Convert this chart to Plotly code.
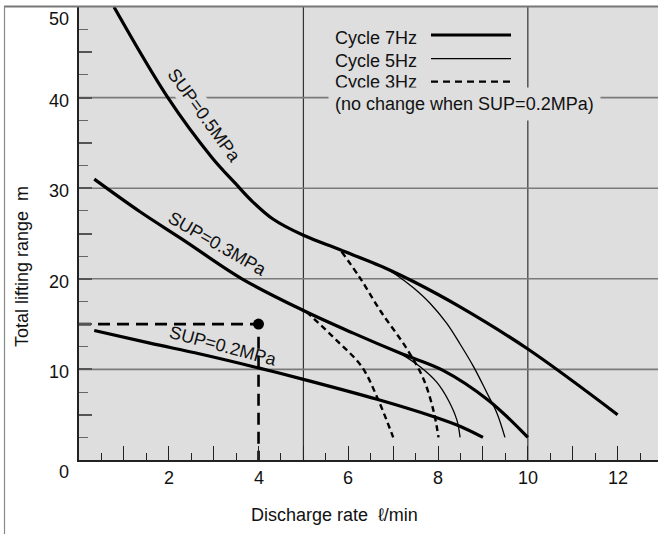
import plotly.graph_objects as go

# ---------------- data ----------------
# SUP = 0.5 MPa
sup05_7hz_x = [0.78, 1.98, 2.96, 3.49, 3.83, 4.32, 5.00, 5.82, 6.82, 7.45, 8.49, 10.0, 12.0]
sup05_7hz_y = [50.0, 40.0, 33.4, 30.5, 28.7, 26.6, 24.8, 23.2, 21.2, 19.7, 16.9, 12.25, 5.0]
sup05_5hz_x = [6.82, 7.08, 7.45, 7.82, 8.19, 8.49, 8.79, 9.09, 9.31, 9.49]
sup05_5hz_y = [21.2, 20.4, 19.0, 17.3, 15.1, 12.8, 10.3, 7.4, 5.2, 2.5]
sup05_3hz_x = [5.85, 6.26, 6.71, 7.30, 7.67, 7.90, 8.01]
sup05_3hz_y = [23.0, 20.1, 16.5, 12.3, 9.0, 5.4, 2.5]

# SUP = 0.3 MPa
sup03_7hz_x = [0.34, 1.36, 2.32, 3.63, 5.00, 6.11, 7.15, 8.11, 9.12, 10.0]
sup03_7hz_y = [31.0, 27.4, 24.3, 20.0, 16.5, 14.0, 11.8, 9.9, 6.6, 2.5]
sup03_5hz_x = [7.15, 7.60, 7.97, 8.23, 8.42, 8.49]
sup03_5hz_y = [11.8, 10.3, 8.6, 6.6, 4.4, 2.5]
sup03_3hz_x = [5.07, 5.74, 6.30, 6.67, 7.00]
sup03_3hz_y = [16.35, 13.2, 10.3, 6.6, 2.5]

# SUP = 0.2 MPa (no change with cycle)
sup02_x = [0.34, 1.58, 2.70, 3.97, 5.00, 6.64, 7.89, 8.50, 9.00]
sup02_y = [14.3, 12.9, 11.7, 10.2, 8.9, 6.7, 4.8, 3.7, 2.5]

# example reading point
ref_x = 4.0
ref_y = 15.0
ref_vline_top = 13.6

# axis ticks / labels
x_tick_vals = [2, 4, 6, 8, 10, 12]
x_tick_text = ["2", "4", "6", "8", "10", "12"]
y_tick_vals = [0, 10, 20, 30, 40, 50]
y_tick_text = ["0", "10", "20", "30", "40", "50"]
x_grid = [5, 10]
y_grid = [10, 20, 30, 40]

legend_labels = ["Cycle 7Hz", "Cycle 5Hz", "Cycle 3Hz"]
legend_note = "(no change when SUP=0.2MPa)"
curve_labels = ["SUP=0.5MPa", "SUP=0.3MPa", "SUP=0.2MPa"]
curve_label_x = [2.80, 3.09, 3.21]
curve_label_y = [38.0, 23.8, 12.6]
curve_label_angle = [54, 30, 15]
curve_label_bg = [True, False, False]

# ---------------- layout geometry ----------------
W, H = 658, 534
L, R, T, B = 79, 0, 7, 74
PW, PH = W - L - R, H - T - B


def pxx(px):
    return (px - L) / PW


def pxy(py):
    return (H - B - py) / PH


FONT = "Liberation Sans, Arial, Helvetica, sans-serif"
FS = 18
INK = "#111111"
BG = "#dedede"

fig = go.Figure()

thick = dict(color="black", width=3.2, shape="spline", smoothing=1.0)
thin = dict(color="black", width=1.3, shape="spline", smoothing=1.0)
dash3 = dict(color="black", width=2.4, shape="spline", smoothing=1.0, dash="6px,4px")

for xs, ys, ln in [
    (sup05_3hz_x, sup05_3hz_y, dash3),
    (sup03_3hz_x, sup03_3hz_y, dash3),
    (sup05_5hz_x, sup05_5hz_y, thin),
    (sup03_5hz_x, sup03_5hz_y, thin),
    (sup05_7hz_x, sup05_7hz_y, thick),
    (sup03_7hz_x, sup03_7hz_y, thick),
    (sup02_x, sup02_y, thick),
]:
    fig.add_trace(go.Scatter(x=xs, y=ys, mode="lines", line=ln, showlegend=False, hoverinfo="skip"))

# reference dashed lines and point
fig.add_trace(go.Scatter(x=[0, ref_x], y=[ref_y, ref_y], mode="lines",
                         line=dict(color="black", width=2.6, dash="12px,7px"), showlegend=False,
                         hoverinfo="skip"))
fig.add_trace(go.Scatter(x=[ref_x, ref_x], y=[ref_vline_top, 0], mode="lines",
                         line=dict(color="black", width=2.6, dash="12px,7px"), showlegend=False,
                         hoverinfo="skip"))
fig.add_trace(go.Scatter(x=[ref_x], y=[ref_y], mode="markers",
                         marker=dict(color="black", size=11), showlegend=False, hoverinfo="skip"))

shapes = []
for gx in x_grid:
    shapes.append(dict(type="line", xref="x", yref="paper", x0=gx, x1=gx, y0=0, y1=1,
                       line=dict(color="#333333", width=1.2), layer="below"))
for gy in y_grid:
    shapes.append(dict(type="line", xref="paper", yref="y", x0=0, x1=1, y0=gy, y1=gy,
                       line=dict(color="#7a7a7a", width=1.6), layer="below"))
# outer frame lines
shapes.append(dict(type="line", xref="paper", yref="paper", x0=pxx(4), x1=1, y0=pxy(6.5), y1=pxy(6.5),
                   line=dict(color="#777777", width=2)))
shapes.append(dict(type="line", xref="paper", yref="paper", x0=pxx(4.5), x1=pxx(4.5), y0=pxy(6), y1=pxy(534),
                   line=dict(color="#888888", width=1.2)))
# legend keys
key_y = [35, 58.7, 81.7]
key_style = [dict(color="black", width=3.2), dict(color="black", width=1.3),
             dict(color="black", width=2.2, dash="7px,5px")]
for ky, ks in zip(key_y, key_style):
    shapes.append(dict(type="line", xref="paper", yref="paper", x0=pxx(431), x1=pxx(511),
                       y0=pxy(ky), y1=pxy(ky), line=ks))

ann = []
for v, t in zip(x_tick_vals, x_tick_text):
    ann.append(dict(x=v, y=0, xref="x", yref="y", text=t, showarrow=False,
                    yanchor="middle", xanchor="center", yshift=-18,
                    font=dict(family=FONT, size=FS, color=INK)))
for v, t in zip(y_tick_vals, y_tick_text):
    shift = -12 if v in (y_tick_vals[0], y_tick_vals[-1]) else -3
    ann.append(dict(x=0, y=v, xref="paper", yref="y", text=t, showarrow=False,
                    yanchor="middle", xanchor="right", xshift=-8, yshift=shift,
                    font=dict(family=FONT, size=FS, color=INK)))
# axis titles
ann.append(dict(x=pxx(334), y=pxy(515), xref="paper", yref="paper", text="Discharge rate  ℓ/min",
                showarrow=False, xanchor="center", yanchor="middle",
                font=dict(family=FONT, size=FS, color=INK)))
ann.append(dict(x=pxx(22), y=pxy(267), xref="paper", yref="paper", text="Total lifting range  m",
                showarrow=False, xanchor="center", yanchor="middle", textangle=-90,
                font=dict(family=FONT, size=FS, color=INK)))
# legend texts
for t, ty in zip(legend_labels, [38, 60.5, 82.5]):
    ann.append(dict(x=pxx(333), y=pxy(ty), xref="paper", yref="paper", text=t, showarrow=False,
                    xanchor="left", yanchor="middle", font=dict(family=FONT, size=FS, color=INK)))
ann.append(dict(x=pxx(328), y=pxy(104), xref="paper", yref="paper", text=legend_note, showarrow=False,
                xanchor="left", yanchor="middle", bgcolor=BG, borderpad=6,
                font=dict(family=FONT, size=FS, color=INK)))
# curve labels
for t, cx, cy, ang, hasbg in zip(curve_labels, curve_label_x, curve_label_y, curve_label_angle, curve_label_bg):
    a = dict(x=cx, y=cy, xref="x", yref="y", text=t, showarrow=False, textangle=ang,
             xanchor="center", yanchor="middle",
             font=dict(family=FONT, size=FS, color=INK))
    if hasbg:
        a.update(bgcolor=BG, borderpad=2)
    ann.append(a)

fig.update_layout(
    width=W, height=H,
    margin=dict(l=L, r=R, t=T, b=B, pad=0),
    paper_bgcolor="white",
    plot_bgcolor=BG,
    shapes=shapes,
    annotations=ann,
    showlegend=False,
    hovermode=False,
    xaxis=dict(range=[0, 12.9], showgrid=False, zeroline=False, showline=True,
               linecolor="#222222", linewidth=1.5, ticks="inside", tick0=0, dtick=1,
               ticklen=14, tickwidth=1, tickcolor="#222222", showticklabels=False,
               minor=dict(ticks="inside", dtick=0.5, ticklen=7, tickwidth=1,
                          tickcolor="#222222", showgrid=False)),
    yaxis=dict(range=[0, 50], showgrid=False, zeroline=False, showline=True,
               linecolor="#222222", linewidth=1.5, ticks="inside", tick0=0, dtick=5,
               ticklen=13, tickwidth=1.5, tickcolor="#555555", showticklabels=False,
               minor=dict(ticks="inside", dtick=2.5, ticklen=9, tickwidth=1.2,
                          tickcolor="#666666", showgrid=False)),
)

fig.write_html("out.html", config={"displayModeBar": False},
               post_script="document.body.style.margin='0px';document.body.style.overflow='hidden';")
